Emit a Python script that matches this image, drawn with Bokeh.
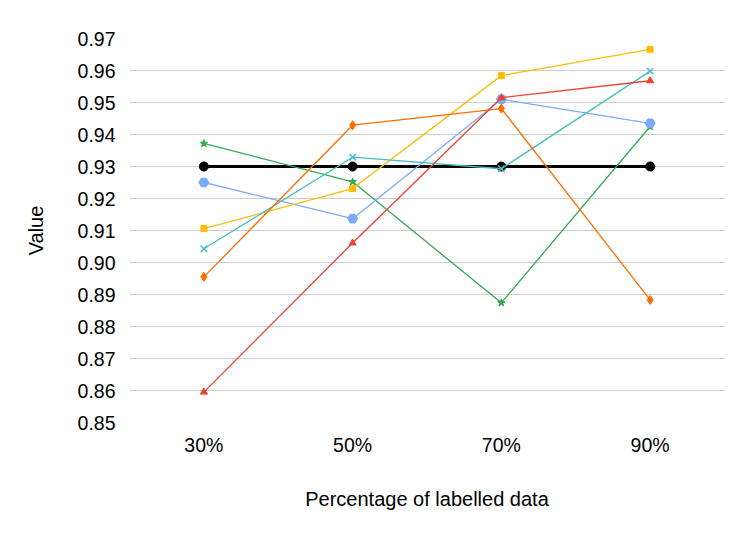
from bokeh.plotting import figure
from bokeh.models import FactorRange, Range1d, SingleIntervalTicker, CustomJSTickFormatter
from bokeh.embed import file_html
from bokeh.resources import INLINE

categories = ["30%", "50%", "70%", "90%"]
baseline = [0.930, 0.930, 0.930, 0.930]
green_star = [0.9372, 0.9252, 0.8874, 0.9425]
blue_pent = [0.9250, 0.9137, 0.9510, 0.9435]
yellow_sq = [0.9106, 0.9231, 0.9584, 0.9666]
cyan_x = [0.9043, 0.9329, 0.9293, 0.9598]
orange_dia = [0.8955, 0.9429, 0.9481, 0.8883]
red_tri = [0.8595, 0.9061, 0.9515, 0.9568]

FONT = "Liberation Sans"

p = figure(width=745, height=530, x_range=FactorRange(factors=categories),
           y_range=Range1d(0.85, 0.97), output_backend="svg", toolbar_location=None,
           min_border_left=129, min_border_right=21, min_border_top=38, min_border_bottom=108)
p.outline_line_color = None
p.background_fill_color = "white"

series = [
    (baseline, "#000000", "circle", 9, 3),
    (green_star, "#34A853", "star", 8, 1.3),
    (blue_pent, "#7BAAF7", "hex", 10, 1.3),
    (yellow_sq, "#FBBC04", "square", 6, 1.3),
    (cyan_x, "#46BDC6", "x", 9, 1.3),
    (orange_dia, "#FF6D01", "diamond", 9, 1.3),
    (red_tri, "#EA4335", "triangle", 7, 1.3),
]
for vals, col, mk, sz, lw in series:
    p.line(categories, vals, line_color=col, line_width=lw)
    p.scatter(categories, vals, marker=mk, size=sz, fill_color=col, line_color=col,
              line_width=1.5 if mk == "x" else 1)

p.yaxis.ticker = SingleIntervalTicker(interval=0.01)
p.yaxis.formatter = CustomJSTickFormatter(code="return tick.toFixed(2);")
p.ygrid.grid_line_color = "#cccccc"
p.ygrid.grid_line_width = 1
p.xgrid.grid_line_color = None

for ax in (p.xaxis, p.yaxis):
    ax.axis_line_color = None
    ax.major_tick_line_color = None
    ax.minor_tick_line_color = None
    ax.major_tick_out = 0
    ax.major_tick_in = 0
    ax.major_label_text_font = FONT
    ax.major_label_text_font_size = "19.5px"
    ax.major_label_text_color = "#000000"
    ax.axis_label_text_font = FONT
    ax.axis_label_text_font_size = "20px"
    ax.axis_label_text_font_style = "normal"
    ax.axis_label_text_color = "#000000"

p.yaxis.major_label_standoff = 10
p.yaxis.axis_label = "Value"
p.yaxis.axis_label_standoff = 28
p.xaxis.major_label_standoff = 11
p.xaxis.axis_label = "Percentage of labelled data"
p.xaxis.axis_label_standoff = 29

open("out.html", "w").write(file_html(p, INLINE))
